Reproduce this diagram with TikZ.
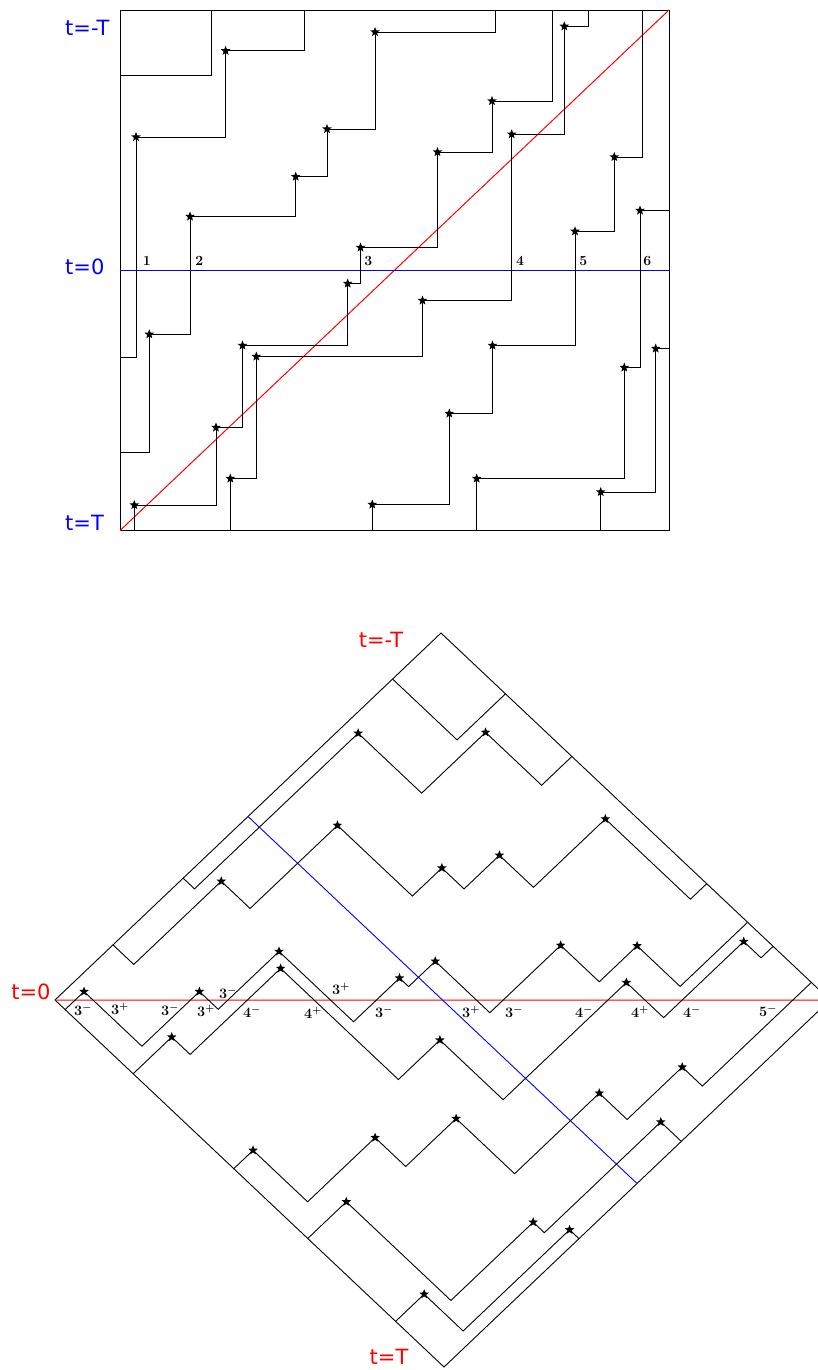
\documentclass[tikz,border=0pt]{standalone}
\usepackage{fontspec}
\newfontfamily\tlabelfont{DejaVu Sans}
\usetikzlibrary{shapes.geometric}

\tikzset{
  walk/.style={black, line width=0.9pt, line join=miter},
  frame/.style={black, line width=0.9pt},
  diag/.style={red, line width=1pt},
  zeroline/.style={blue, line width=0.9pt},
  starmark/.style={star, star points=5, star point ratio=2.3, fill=black,
                   draw=none, minimum size=10pt, inner sep=0pt},
  tlab/.style={font=\tlabelfont\fontsize{21}{25}\selectfont, inner sep=0pt},
  idx/.style={font=\fontsize{14}{16}\selectfont\bfseries, inner sep=0pt},
  sgn/.style={font=\fontsize{14}{16}\selectfont\boldmath, inner sep=0pt},
}

% The whole set of staircase paths, written in the frame of the square
% picture; #1 prefixes the names of the star nodes.
\newcommand\stairwalks[1]{%
  \draw[frame] (120,10) -- (669,10) -- (669,530.5) -- (120,530.5) -- cycle;
  \draw[diag] (120,530.5) -- (669,10);
  \draw[zeroline] (120,270.25) -- (669,270.25);
  % corner box
  \draw[walk] (120,75.3) -- (211,75.3) -- (211,10);
  % walk a
  \draw[walk] (120,357.7) -- (136,357.7)
    -- (136,137) node[starmark] (#1a1) {}
    -- (225.6,137) -- (225.6,50.8) node[starmark] (#1a2) {}
    -- (304.7,50.8) -- (304.7,10);
  % walk b
  \draw[walk] (120,452.3) -- (149.3,452.3)
    -- (149.3,334.3) node[starmark] (#1b1) {}
    -- (190,334.3) -- (190,216.5) node[starmark] (#1b2) {}
    -- (295.7,216.5) -- (295.7,176.7) node[starmark] (#1b3) {}
    -- (327,176.7) -- (327,129) node[starmark] (#1b4) {}
    -- (375,129) -- (375,32) node[starmark] (#1b5) {}
    -- (495,32) -- (495,10);
  % walk c
  \draw[walk] (134.3,530.5)
    -- (134.3,505) node[starmark] (#1c1) {}
    -- (216,505) -- (216,427.5) node[starmark] (#1c2) {}
    -- (242.5,427.5) -- (242.5,345.5) node[starmark] (#1c3) {}
    -- (347.7,345.5) -- (347.7,283.5) node[starmark] (#1c4) {}
    -- (360.5,283.5) -- (360.5,247.5) node[starmark] (#1c5) {}
    -- (437.5,247.5) -- (437.5,152) node[starmark] (#1c6) {}
    -- (492,152) -- (492,101) node[starmark] (#1c7) {}
    -- (552.7,101) -- (552.7,10);
  % walk d
  \draw[walk] (230.3,530.5)
    -- (230.3,478.5) node[starmark] (#1d1) {}
    -- (256.3,478.5) -- (256.3,356.5) node[starmark] (#1d2) {}
    -- (422.5,356.5) -- (422.5,300.5) node[starmark] (#1d3) {}
    -- (511.7,300.5) -- (511.7,134.3) node[starmark] (#1d4) {}
    -- (564.3,134.3) -- (564.3,26.3) node[starmark] (#1d5) {}
    -- (588.7,26.3) -- (588.7,10);
  % walk e
  \draw[walk] (372.3,530.5)
    -- (372.3,504.5) node[starmark] (#1e1) {}
    -- (449.3,504.5) -- (449.3,413.5) node[starmark] (#1e2) {}
    -- (492.5,413.5) -- (492.5,345.5) node[starmark] (#1e3) {}
    -- (575,345.5) -- (575,231.3) node[starmark] (#1e4) {}
    -- (614.3,231.3) -- (614.3,157) node[starmark] (#1e5) {}
    -- (642.7,157) -- (642.7,10);
  % walk f
  \draw[walk] (476.7,530.5)
    -- (476.7,478.5) node[starmark] (#1f1) {}
    -- (624.3,478.5) -- (624.3,367.5) node[starmark] (#1f2) {}
    -- (640,367.5) -- (640,210.5) node[starmark] (#1f3) {}
    -- (669,210.5);
  % walk g
  \draw[walk] (600.7,530.5)
    -- (600.7,492) node[starmark] (#1g1) {}
    -- (655.7,492) -- (655.7,348.5) node[starmark] (#1g2) {}
    -- (669,348.5);
}

\begin{document}
\begin{tikzpicture}[x=1pt, y=-1pt]
  \useasboundingbox (0,0) rectangle (818,1370);
  \clip (0,0) rectangle (818,1370);

  % square picture
  \stairwalks{r}
  \node[tlab, blue, anchor=west] (rtop) at (65,28) {t=-T};
  \node[tlab, blue, anchor=west] (rzero) at (65,267) {t=0};
  \node[tlab, blue, anchor=west] (rbot) at (65,522.5) {t=T};
  \node[idx] (n1) at (146.7,260.5) {1};
  \node[idx] (n2) at (199.3,260.5) {2};
  \node[idx] (n3) at (368.3,260.5) {3};
  \node[idx] (n4) at (520,260.5) {4};
  \node[idx] (n5) at (583.3,260.5) {5};
  \node[idx] (n6) at (647.3,260.5) {6};

  % the same paths turned into the diamond
  \begin{scope}[shift={(363.389pt,-545.730pt)},
                x={(0.70856pt,-0.66849pt)}, y={(-0.74159pt,-0.70509pt)}]
    \stairwalks{d}
  \end{scope}
  \node[tlab, red] (dtop) at (381,640) {t=-T};
  \node[tlab, red] (dzero) at (31,992) {t=0};
  \node[tlab, red] (dbot) at (389,1357) {t=T};

  \node[sgn] (s1) at (83,1010) {$3^-$};
  \node[sgn] (s2) at (120,1009) {$3^+$};
  \node[sgn] (s3) at (170,1010) {$3^-$};
  \node[sgn] (s4) at (206,1011) {$3^+$};
  \node[sgn] (s5) at (228,993) {$3^-$};
  \node[sgn] (s6) at (252,1012) {$4^-$};
  \node[sgn] (s7) at (313,1013) {$4^+$};
  \node[sgn] (s8) at (341,989) {$3^+$};
  \node[sgn] (s9) at (384,1012) {$3^-$};
  \node[sgn] (s10) at (471,1012) {$3^+$};
  \node[sgn] (s11) at (514,1012) {$3^-$};
  \node[sgn] (s12) at (584,1012) {$4^-$};
  \node[sgn] (s13) at (640,1012) {$4^+$};
  \node[sgn] (s14) at (692,1012) {$4^-$};
  \node[sgn] (s15) at (768,1011) {$5^-$};
\end{tikzpicture}
\end{document}
